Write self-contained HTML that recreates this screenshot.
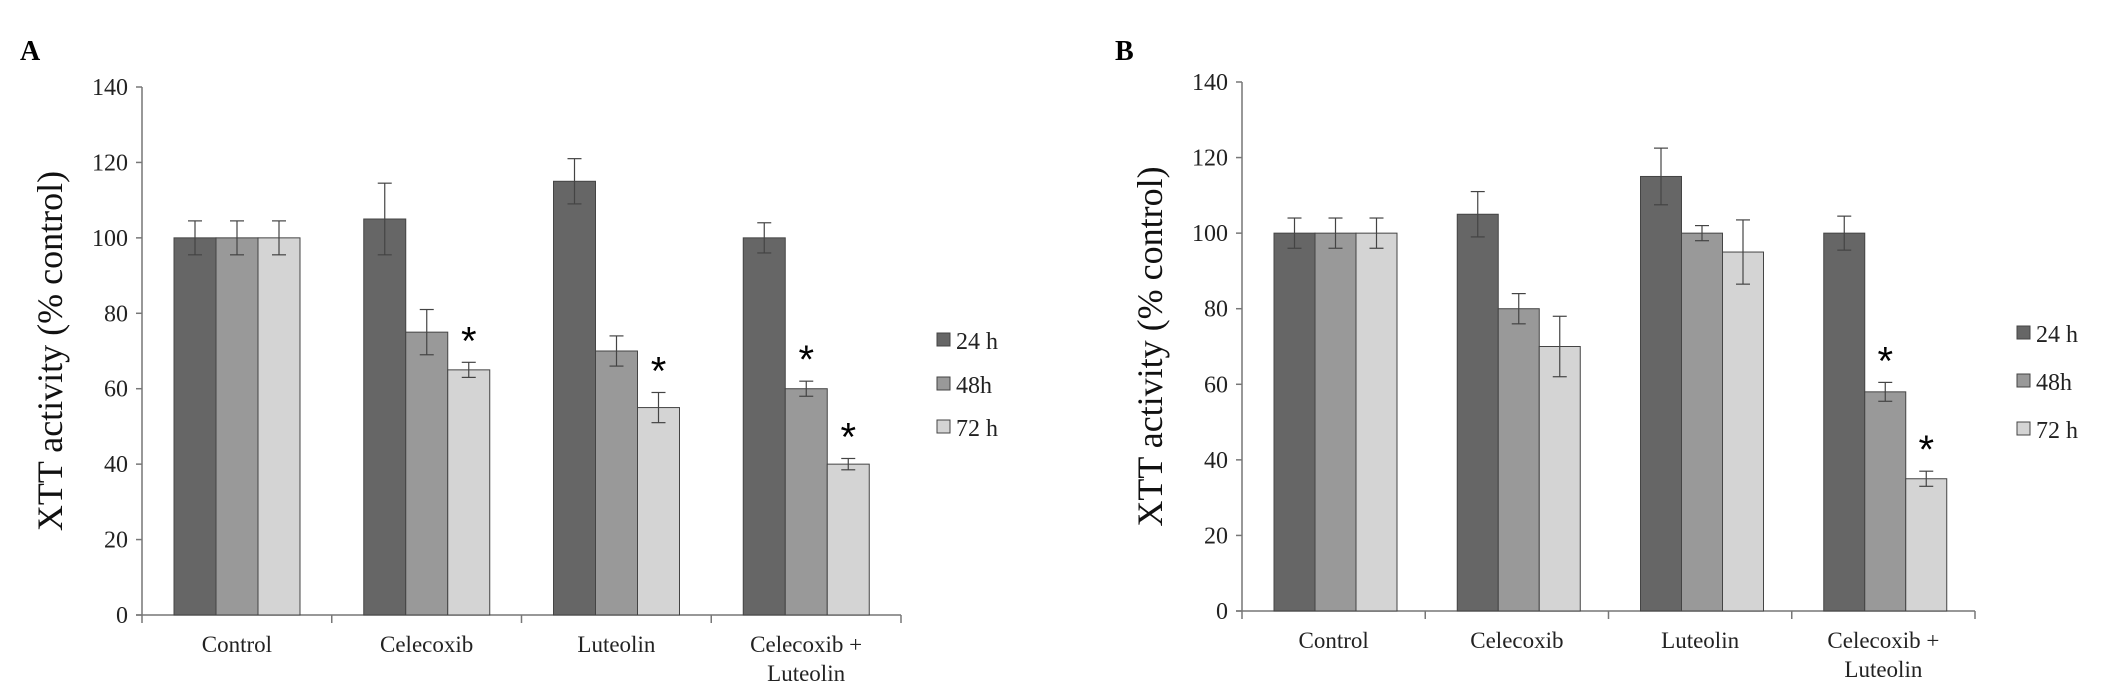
<!DOCTYPE html>
<html><head><meta charset="utf-8"><style>
html,body{margin:0;padding:0;background:#fff;}
svg{display:block;font-family:"Liberation Serif",serif;}
</style></head><body>
<svg id="chart" width="2126" height="700" viewBox="0 0 2126 700"></svg>
<script>
const categories = ["Control", "Celecoxib", "Luteolin", "Celecoxib +|Luteolin"];
const seriesNames = ["24 h", "48h", "72 h"];
const yTicks = [0, 20, 40, 60, 80, 100, 120, 140];
const valuesA24 = [100, 105, 115, 100];
const valuesA48 = [100, 75, 70, 60];
const valuesA72 = [100, 65, 55, 40];
const errA24 = [4.5, 9.5, 6, 4];
const errA48 = [4.5, 6, 4, 2];
const errA72 = [4.5, 2, 4, 1.5];
const starsA48 = [false, false, false, true];
const starsA72 = [false, true, true, true];
const valuesB24 = [100, 105, 115, 100];
const valuesB48 = [100, 80, 100, 58];
const valuesB72 = [100, 70, 95, 35];
const errB24 = [4, 6, 7.5, 4.5];
const errB48 = [4, 4, 2, 2.5];
const errB72 = [4, 8, 8.5, 2];
const starsB48 = [false, false, false, true];
const starsB72 = [false, false, false, true];

const NS = "http://www.w3.org/2000/svg";
const svg = document.getElementById("chart");
function mk(tag, attrs, parent, text) {
  const e = document.createElementNS(NS, tag);
  for (const k in attrs) e.setAttribute(k, attrs[k]);
  if (text !== undefined) e.textContent = text;
  (parent || svg).appendChild(e);
  return e;
}
const colors = ["#666666", "#999999", "#d4d4d4"];

function panel(p) {
  const g = mk("g", {});
  
  
  const y = v => p.y0 - (v / 140) * (p.y0 - p.y140);
  const gw = (p.xEnd - p.x0) / categories.length;
  const bw = p.bw;
  const barX = (ci, si) => p.x0 + ci * gw + p.off + si * bw;

  const lab = mk("text", {x: p.labX, y: 60, "font-size": 28, "font-weight": "bold", fill: "#000"}, g, p.id);
  
  

  const ya = mk("line", {x1: p.x0, y1: p.y140, x2: p.x0, y2: p.y0, stroke: "#777", "stroke-width": 1.5}, g);
  
  
  const xa = mk("line", {x1: p.x0 - 6, y1: p.y0, x2: p.xEnd, y2: p.y0, stroke: "#777", "stroke-width": 1.5}, g);
  
  
  yTicks.forEach(t => {
    mk("line", {x1: p.x0 - 6, y1: y(t), x2: p.x0, y2: y(t), stroke: "#777", "stroke-width": 1.5}, g);
    const tl = mk("text", {x: p.x0 - 14, y: y(t) + 8, "font-size": 24, "text-anchor": "end", fill: "#222"}, g, String(t));
    
    
  });
  for (let i = 0; i <= categories.length; i++) {
    const xx = p.x0 + i * gw;
    mk("line", {x1: xx, y1: p.y0, x2: xx, y2: p.y0 + 8, stroke: "#777", "stroke-width": 1.5}, g);
  }
  categories.forEach((c, ci) => {
    const cx = p.x0 + (ci + 0.5) * gw;
    c.split("|").forEach((line, li) => {
      const t = mk("text", {x: cx, y: p.y0 + 37 + li * 29, "font-size": 23, "text-anchor": "middle", fill: "#222"}, g, line);
      
      
    });
  });
  const yt = mk("text", {x: 0, y: 0, "font-size": 36, "text-anchor": "middle", fill: "#111",
    transform: "translate(" + p.titleX + "," + ((p.y0 + p.y140) / 2) + ") rotate(-90)"}, g, "XTT activity (% control)");
  
  

  const vals = [p.v24, p.v48, p.v72];
  const errs = [p.e24, p.e48, p.e72];
  const stars = [null, p.s48, p.s72];
  vals.forEach((arr, si) => {
    arr.forEach((v, ci) => {
      const bx = barX(ci, si);
      const r = mk("rect", {x: bx, y: y(v), width: bw, height: p.y0 - y(v), fill: colors[si], stroke: "#444", "stroke-width": 1}, g);
      
      
      const cx = bx + bw / 2, e = errs[si][ci];
      const eg = mk("g", {stroke: "#444", "stroke-width": 1.2}, g);
      
      
      mk("line", {x1: cx, y1: y(v + e), x2: cx, y2: y(v - e)}, eg);
      mk("line", {x1: cx - 7, y1: y(v + e), x2: cx + 7, y2: y(v + e)}, eg);
      mk("line", {x1: cx - 7, y1: y(v - e), x2: cx + 7, y2: y(v - e)}, eg);
      if (stars[si] && stars[si][ci]) {
        const s = mk("text", {x: cx, y: y(v + e) - 8, "font-size": 40, "text-anchor": "middle", fill: "#000", "font-family": "Liberation Sans, sans-serif"}, g, "*");
        
        
      }
    });
  });
  seriesNames.forEach((n, si) => {
    const ly = p.legY[si];
    const lg = mk("g", {}, g);
    
    
    mk("rect", {x: p.legX, y: ly - 8, width: 13, height: 13, fill: colors[si], stroke: "#444", "stroke-width": 1}, lg);
    mk("text", {x: p.legX + 19, y: ly + 8, "font-size": 24, fill: "#222"}, lg, n);
  });
}

panel({id: "A", labX: 20, x0: 142, xEnd: 901, y0: 615, y140: 87, off: 32, bw: 42, titleX: 62,
  v24: valuesA24, v48: valuesA48, v72: valuesA72, e24: errA24, e48: errA48, e72: errA72,
  s48: starsA48, s72: starsA72, legX: 937, legY: [341, 385, 428]});
panel({id: "B", labX: 1115, x0: 1242, xEnd: 1975, y0: 611, y140: 82, off: 32, bw: 41, titleX: 1162,
  v24: valuesB24, v48: valuesB48, v72: valuesB72, e24: errB24, e48: errB48, e72: errB72,
  s48: starsB48, s72: starsB72, legX: 2017, legY: [334, 382, 430]});
</script>
</body></html>
